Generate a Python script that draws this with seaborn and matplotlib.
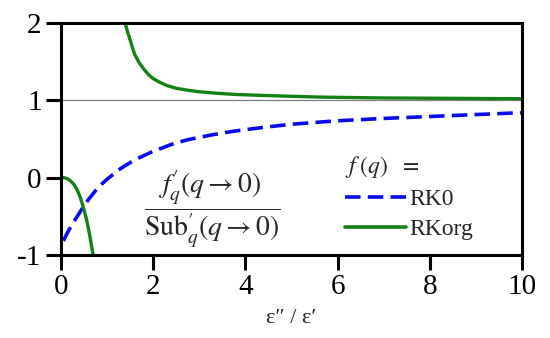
import numpy as np
import pandas as pd
import matplotlib
matplotlib.use("Agg")
import matplotlib.pyplot as plt
import seaborn as sns

# values
rk0_x = [0.05, 0.15, 0.3, 0.45, 0.6, 0.8, 1.0, 1.3, 1.6, 2.0, 2.4, 2.75, 3.25, 3.75,
         4.4, 5.0, 6.0, 7.0, 8.0, 9.0, 10.0]
rk0_y = [-0.82, -0.70, -0.55, -0.41, -0.28, -0.13, -0.02, 0.12, 0.23, 0.34, 0.43, 0.49,
         0.55, 0.60, 0.65, 0.69, 0.735, 0.765, 0.79, 0.815, 0.84]

rkorg_low_x = [0.05, 0.12, 0.2, 0.28, 0.35, 0.42, 0.5, 0.56, 0.62, 0.68, 0.74]
rkorg_low_y = [0.0, -0.01, -0.04, -0.09, -0.16, -0.26, -0.42, -0.56, -0.74, -0.95, -1.15]

rkorg_up_x = [1.33, 1.39, 1.45, 1.5, 1.55, 1.6, 1.7, 1.8, 1.9, 2.0, 2.15, 2.3, 2.5, 2.75,
              3.0, 3.4, 3.8, 4.5, 5.7, 7.0, 8.5, 10.0]
rkorg_up_y = [2.15, 2.0, 1.87, 1.78, 1.68, 1.59, 1.48, 1.40, 1.33, 1.28, 1.23, 1.19, 1.155,
              1.13, 1.11, 1.09, 1.075, 1.06, 1.04, 1.03, 1.025, 1.02]

xticks = [0, 2, 4, 6, 8, 10]
yticks = [-1, 0, 1, 2]

sns.set_theme(style="ticks")
plt.rcParams["font.family"] = ["Liberation Serif", "DejaVu Serif"]
plt.rcParams["mathtext.fontset"] = "stix"
plt.rcParams["axes.unicode_minus"] = False

fig = plt.figure(figsize=(5.5, 3.38), dpi=100)
ax = fig.add_axes([0.111, 0.246, 0.838, 0.686])

ax.axhline(1, color="gray", lw=0.9, zorder=1)

rk0 = pd.DataFrame({"x": rk0_x, "y": rk0_y})
low = pd.DataFrame({"x": rkorg_low_x, "y": rkorg_low_y})
up = pd.DataFrame({"x": rkorg_up_x, "y": rkorg_up_y})

sns.lineplot(data=rk0, x="x", y="y", ax=ax, color="#0a0aee", lw=2.6,
             label="RK0", sort=False)
ax.lines[-1].set_dashes([4.3, 2.0])
sns.lineplot(data=up, x="x", y="y", ax=ax, color="#158015", lw=2.4, label="RKorg", sort=False)
sns.lineplot(data=low, x="x", y="y", ax=ax, color="#158015", lw=2.4, sort=False)

ax.set_xlim(0, 10)
ax.set_ylim(-1, 2)
ax.set_xticks(xticks)
ax.set_yticks(yticks)
ax.set_xticklabels([str(t) for t in xticks])
ax.set_yticklabels([str(t) for t in yticks])
ax.tick_params(direction="out", length=11, width=2.2, labelsize=21, pad=3, colors="black")
for s in ax.spines.values():
    s.set_visible(True)
    s.set_linewidth(2.2)
    s.set_color("black")

ax.set_xlabel("ε\u2033 / ε\u2032", fontsize=16, labelpad=6)
ax.set_ylabel("")

ax.text(0.328, 0.198,
        r"$\dfrac{f_{q}^{\prime}(q\rightarrow 0)}{\mathrm{Sub}_{q}^{\prime}(q\rightarrow 0)}$",
        transform=ax.transAxes, ha="center", va="center", fontsize=20)

leg = ax.legend(title=r"$f\;(q)$  $=$", loc="upper left", bbox_to_anchor=(0.59, 0.485),
                frameon=False, fontsize=17, title_fontsize=17, handlelength=2.6,
                handletextpad=0.15, borderpad=0, labelspacing=0.35)
leg._legend_box.align = "left"
for h in leg.get_lines():
    h.set_linewidth(2.6)

fig.savefig("out.png", dpi=100)
